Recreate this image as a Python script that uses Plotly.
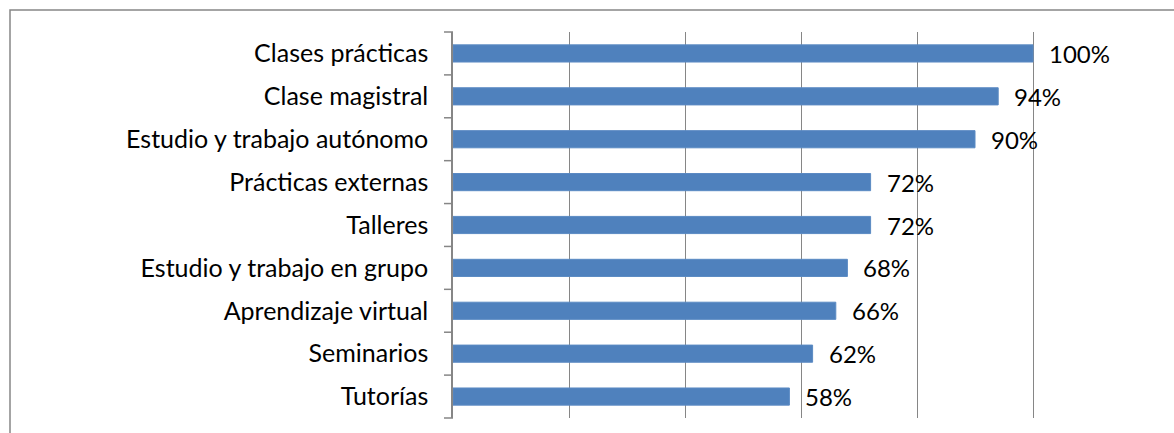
import plotly.graph_objects as go

categories = [
    "Clases prácticas",
    "Clase magistral",
    "Estudio y trabajo autónomo",
    "Prácticas externas",
    "Talleres",
    "Estudio y trabajo en grupo",
    "Aprendizaje virtual",
    "Seminarios",
    "Tutorías",
]
values = [100, 94, 90, 72, 72, 68, 66, 62, 58]

W, H = 1174, 433
ML, MR, MT, MB = 453, 25, 32, 15
GRID = "#868686"
FONT = "Lato"

fig = go.Figure(
    go.Bar(
        y=categories,
        x=values,
        orientation="h",
        width=0.4,
        marker=dict(color="#4F81BD", line=dict(color="#5B8AC3", width=1)),
        hoverinfo="skip",
    )
)

# value labels to the right of each bar
for c, v in zip(categories, values):
    fig.add_annotation(
        x=v, y=c, text=f"{v}%", showarrow=False,
        xanchor="left", yanchor="middle", xshift=14,
        font=dict(family=FONT, size=24, color="black"),
    )

pw = W - ML - MR
ph = H - MT - MB

# category tick marks between the bands, on the left of the axis line
n = len(categories)
for k in range(n + 1):
    fig.add_shape(
        type="line", xref="paper", yref="paper",
        x0=-9 / pw, x1=0, y0=k / n, y1=k / n,
        line=dict(color=GRID, width=1.5),
    )

# outer chart frame (extends past the bottom/right edge of the page)
fig.add_shape(
    type="rect", xref="paper", yref="paper",
    x0=(10 - ML) / pw, x1=(W + 20 - ML) / pw,
    y0=-(MB + 20) / ph, y1=1 + (MT - 10) / ph,
    line=dict(color=GRID, width=1.5), fillcolor="rgba(0,0,0,0)", layer="below",
)

fig.update_layout(
    width=W, height=H,
    margin=dict(l=ML, r=MR, t=MT, b=MB),
    paper_bgcolor="white", plot_bgcolor="white",
    showlegend=False,
    font=dict(family=FONT, size=25, color="black"),
    xaxis=dict(
        range=[0, 120], dtick=20, showticklabels=False,
        showgrid=True, gridcolor=GRID, gridwidth=1,
        zeroline=False, showline=False, ticks="",
        fixedrange=True,
    ),
    yaxis=dict(
        categoryorder="array", categoryarray=categories[::-1],
        range=[-0.5, n - 0.5],
        showline=True, linecolor=GRID, linewidth=1.5,
        ticks="", ticklabelstandoff=18,
        tickfont=dict(family=FONT, size=25, color="black"),
        showgrid=False, fixedrange=True,
    ),
)

fig.write_html("out.html")
